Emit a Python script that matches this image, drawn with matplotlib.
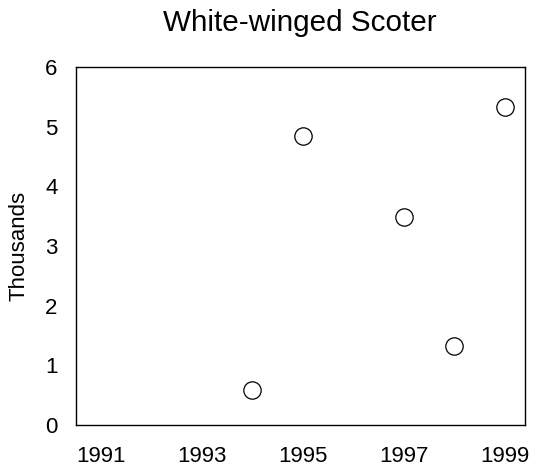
import matplotlib
matplotlib.use("Agg")
import matplotlib.pyplot as plt

plt.rcParams['font.family'] = ['Liberation Sans', 'DejaVu Sans']

years = [1994, 1995, 1997, 1998, 1999]
thousands = [0.58, 4.85, 3.48, 1.32, 5.33]
xticks = [1991, 1993, 1995, 1997, 1999]
yticks = [0, 1, 2, 3, 4, 5, 6]

fig = plt.figure(figsize=(5.36, 4.74), dpi=100)
ax = fig.add_axes([0.141, 0.1034, 0.838, 0.7553])

ax.plot(years, thousands, linestyle='none', marker='o', markersize=12.5,
        markerfacecolor='white', markeredgecolor='black', markeredgewidth=0.9)

ax.set_xlim(1990.5, 1999.4)
ax.set_ylim(0, 6)
ax.set_xticks(xticks)
ax.set_xticklabels([str(y) for y in xticks])
ax.set_yticks(yticks)
ax.tick_params(length=0, labelsize=16)
ax.tick_params(axis='x', pad=15)
ax.tick_params(axis='y', pad=13)
for s in ax.spines.values():
    s.set_linewidth(1.0)
    s.set_color('black')

ax.set_ylabel('Thousands', fontsize=16, labelpad=11)
ax.set_title('White-winged Scoter', fontsize=21.3, pad=26)

fig.savefig('out.png', dpi=100)
